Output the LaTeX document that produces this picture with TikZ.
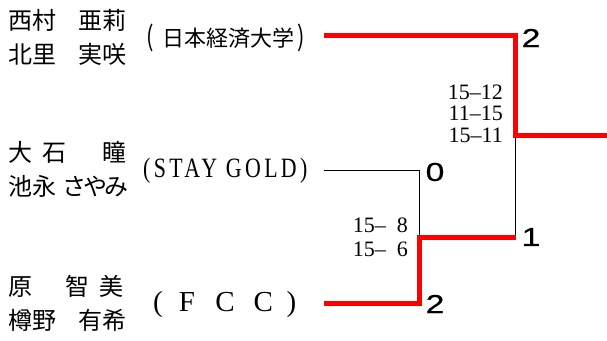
\documentclass[tikz,border=0pt]{standalone}
\usepackage{fontspec}
\newfontfamily\jpfont{Noto Sans CJK JP}
\newfontfamily\serifnum{Liberation Serif}
\newfontfamily\clubfont[FakeStretch=0.78,LetterSpace=12]{Liberation Serif}
\newfontfamily\scorefont[FakeStretch=1.3,FakeBold=0.6]{Liberation Sans}

\begin{document}
\begin{tikzpicture}[x=1pt,y=-1pt]
    % Definizione stili
    \tikzstyle{giocatore}=[anchor=west, inner sep=0pt, font=\jpfont\fontsize{24pt}{24pt}\selectfont]
    \tikzstyle{squadra}=[anchor=west, inner sep=0pt]
    \tikzstyle{punti}=[inner sep=0pt, font=\scorefont\fontsize{26pt}{26pt}\selectfont]
    \tikzstyle{parziali}=[anchor=east, align=right, inner sep=0pt]
    \tikzstyle{vincente}=[draw=red, line width=5pt]
    \tikzstyle{perdente}=[draw=black, line width=1pt]

    \useasboundingbox (0,0) rectangle (607,340);

    % Coppie
    \node[giocatore] (nome1a) at (8,20) {西村\hspace{22pt}亜莉};
    \node[giocatore] (nome1b) at (8,54) {北里\hspace{22pt}実咲};
    \node[giocatore] (nome2a) at (8,152) {大\hspace{10pt}石\hspace{36pt}瞳};
    \node[giocatore] (nome2b) at (8,186) {池永\hspace{6pt}さ\hspace{-3pt}や\hspace{-3pt}み};
    \node[giocatore] (nome3a) at (8,286) {原\hspace{33pt}智\hspace{10pt}美};
    \node[giocatore] (nome3b) at (8,320) {樽野\hspace{22pt}有希};

    % Squadre
    \node[squadra, font=\jpfont\fontsize{22pt}{22pt}\selectfont] (club1) at (146,38) {\scalebox{1}[1.25]{(}\hspace{9pt}日本経済大学\hspace{3pt}\scalebox{1}[1.25]{)}};
    \node[squadra, font=\clubfont\fontsize{28pt}{28pt}\selectfont] (club2) at (143,171) {(STAY GOLD)};
    \node[squadra, font=\serifnum\fontsize{29pt}{29pt}\selectfont] (club3) at (153,305) {(\hspace{16pt}F\hspace{20.5pt}C\hspace{18.7pt}C\hspace{13.7pt})};

    % Punti di incrocio del tabellone
    \coordinate (inizio1) at (324,35.5);
    \coordinate (angolo1) at (515.5,35.5);
    \coordinate (finale) at (515.5,135.5);
    \coordinate (uscita) at (607,135.5);
    \coordinate (inizio2) at (324,170.5);
    \coordinate (angolo2) at (419.5,170.5);
    \coordinate (semi) at (419.5,237.5);
    \coordinate (angolo4) at (515.5,237.5);
    \coordinate (inizio3) at (324,303.5);
    \coordinate (angolo3) at (419.5,303.5);

    % Linee perdenti
    \draw[perdente] (inizio2) -- (angolo2) -- (semi);
    \draw[perdente] (finale) -- (angolo4);

    % Linee vincenti
    \draw[vincente] (inizio1) -- (angolo1) -- (finale) -- (uscita);
    \draw[vincente] (inizio3) -- (angolo3) -- (semi) -- (angolo4);

    % Risultati
    \node[punti] (ris1) at (531,38) {2};
    \node[punti] (ris2) at (435,172) {0};
    \node[punti] (ris3) at (531,237) {1};
    \node[punti] (ris4) at (435,304) {2};

    % Parziali
    \node[parziali, font=\serifnum\fontsize{22pt}{21.5pt}\selectfont] (set1) at (503,113.5) {15–12\\11–15\\15–11};
    \node[parziali, font=\serifnum\fontsize{22pt}{24pt}\selectfont] (set2) at (408,237) {15–\hspace{0.5em}8\\15–\hspace{0.5em}6};
\end{tikzpicture}
\end{document}
